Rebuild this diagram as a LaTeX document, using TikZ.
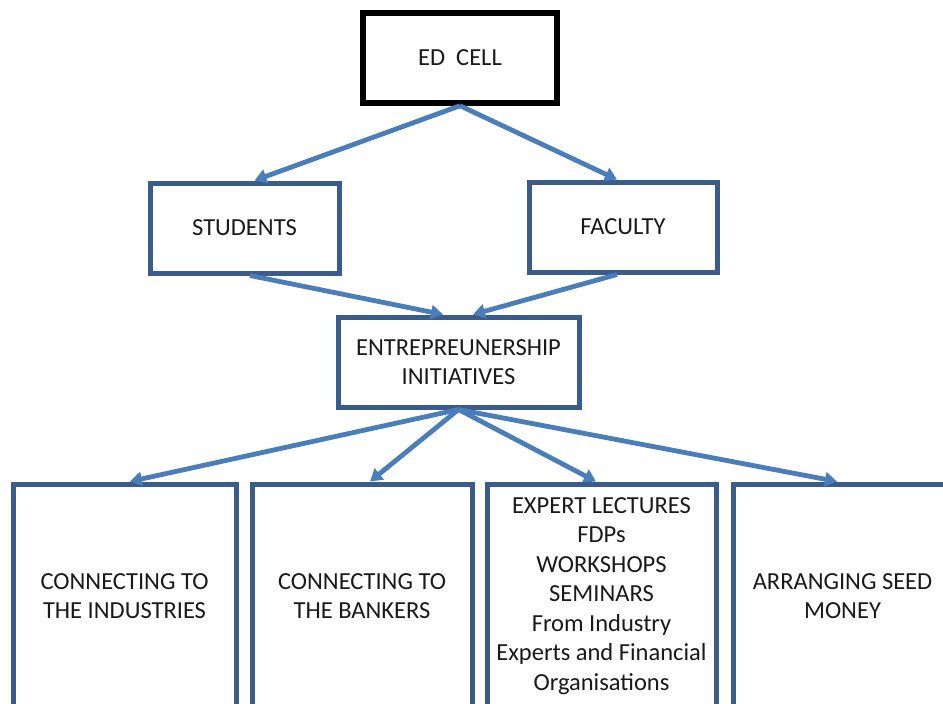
\documentclass[tikz,border=0pt]{standalone}
\usepackage{fontspec}
\setmainfont{Carlito}
\usetikzlibrary{arrows.meta,calc}
\definecolor{boxblue}{HTML}{3A5C8C}
\definecolor{arrblue}{HTML}{4A7EBB}
\definecolor{txt}{HTML}{1A1A1A}
\begin{document}
\begin{tikzpicture}[x=1pt,y=-1pt,
  every node/.style={font=\fontsize{24.5}{29.5}\selectfont, text=txt, align=center, inner sep=0pt},
  bluebox/.style={draw=boxblue, line width=5pt, fill=white},
  blackbox/.style={draw=black, line width=5.5pt, fill=white},
  conn/.style={draw=arrblue, line width=4.8pt, -{Triangle[length=12pt,width=14pt]}}]
\clip (0,0) rectangle (943,704);
\fill[white] (0,0) rectangle (943,704);
\node[blackbox, minimum width=194pt, minimum height=90pt] (ed) at (460,58) {ED\ \ CELL};
\node[bluebox, minimum width=189pt, minimum height=90pt] (stu) at (244.5,228) {STUDENTS};
\node[bluebox, minimum width=188pt, minimum height=90pt] (fac) at (623,227) {FACULTY};
\node[bluebox, minimum width=241pt, minimum height=90pt] (ent) at (458.5,362) {ENTREPREUNERSHIP\\INITIATIVES};
\node[bluebox, minimum width=223pt, minimum height=224pt] (b1) at (124.5,596) {CONNECTING TO\\THE INDUSTRIES};
\node[bluebox, minimum width=220pt, minimum height=224pt] (b2) at (362,596) {CONNECTING TO\\THE BANKERS};
\node[bluebox, minimum width=229pt, minimum height=224pt] (b3) at (601.5,596) {EXPERT LECTURES\\FDPs\\WORKSHOPS\\SEMINARS\\From Industry\\Experts and Financial\\Organisations};
\node[bluebox, minimum width=219pt, minimum height=224pt] (b4) at (842.5,596) {ARRANGING SEED\\MONEY};
\draw[conn] (ed.south) -- ($(stu.north)+(10,0)$);
\draw[conn] (ed.south) -- ($(fac.north)+(-6,0)$);
\draw[conn] ($(stu.south)+(5.5,0)$) -- ($(ent.north)+(-15.5,0)$);
\draw[conn] ($(fac.south)+(-6,0)$) -- ($(ent.north)+(14.5,0)$);
\draw[conn] (ent.south) -- ($(b1.north)+(5.5,0)$);
\draw[conn] (ent.south) -- ($(b2.north)+(8,0)$);
\draw[conn] (ent.south) -- ($(b3.north)+(-5.5,0)$);
\draw[conn] (ent.south) -- ($(b4.north)+(-5.5,0)$);
\end{tikzpicture}
\end{document}
